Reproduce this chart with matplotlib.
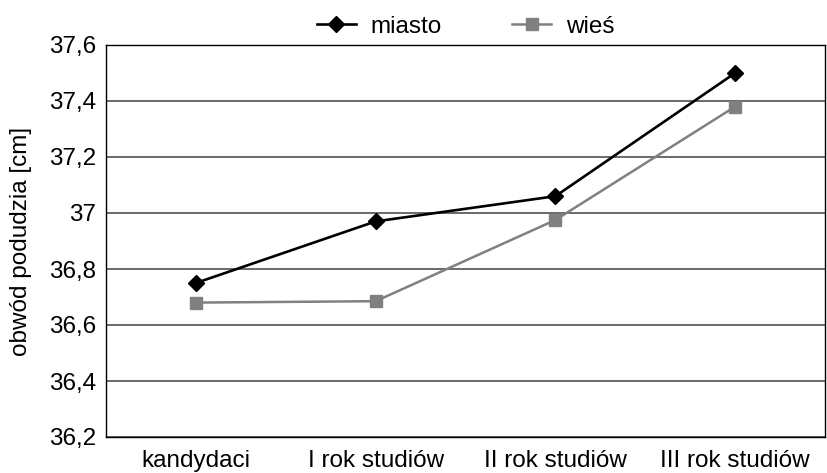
import matplotlib

matplotlib.use("Agg")
import matplotlib.pyplot as plt
from matplotlib.ticker import FuncFormatter

plt.rcParams["font.family"] = ["Liberation Sans", "DejaVu Sans"]

categories = ["kandydaci", "I rok studiów", "II rok studiów", "III rok studiów"]
miasto = [36.75, 36.97, 37.06, 37.50]
wies = [36.68, 36.685, 36.975, 37.38]
y_ticks = [36.2, 36.4, 36.6, 36.8, 37.0, 37.2, 37.4, 37.6]

FS = 17.5


def pl_fmt(v, _pos):
    s = f"{v:.1f}".rstrip("0").rstrip(".")
    return s.replace(".", ",")


fig = plt.figure(figsize=(8.27, 4.73), dpi=100)
ax = fig.add_axes([106 / 827, 1 - 437 / 473, (825 - 106) / 827, (437 - 45) / 473])

x = range(len(categories))
ax.plot(x, miasto, color="black", lw=1.9, marker="D", ms=8.5, label="miasto", zorder=3)
ax.plot(x, wies, color="#808080", lw=1.8, marker="s", ms=8.0, label="wieś", zorder=3)

ax.set_xlim(-0.5, len(categories) - 0.5)
ax.set_ylim(36.2, 37.6)
ax.set_yticks(y_ticks)
ax.yaxis.set_major_formatter(FuncFormatter(pl_fmt))
ax.set_xticks(list(x))
ax.set_xticklabels(categories)
ax.tick_params(axis="both", length=0, labelsize=FS, colors="black")
ax.tick_params(axis="y", pad=7)
ax.tick_params(axis="x", pad=9)
ax.grid(axis="y", color="#505050", lw=1.2)
ax.set_axisbelow(True)
for sp in ax.spines.values():
    sp.set_color("black")
    sp.set_linewidth(1.0)

ax.set_ylabel("obwód podudzia [cm]", fontsize=FS, labelpad=12)

ax.legend(loc="lower center", bbox_to_anchor=(0.5, 1.0), ncol=2, frameon=False,
          fontsize=FS, handlelength=1.6, handletextpad=0.6, columnspacing=2.9,
          borderaxespad=0.0, borderpad=0.3)

fig.savefig("out.png", dpi=100)
